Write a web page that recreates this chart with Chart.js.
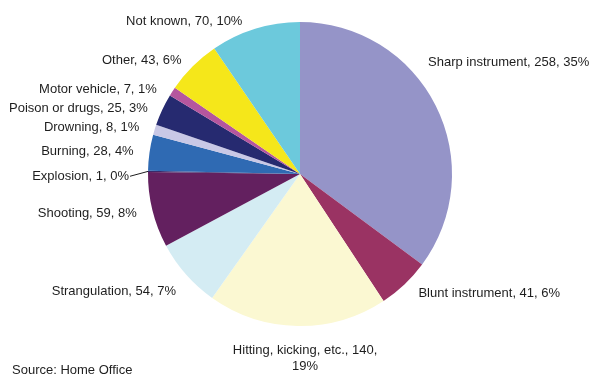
<!DOCTYPE html>
<html>
<head>
<meta charset="utf-8">
<script src="https://cdn.jsdelivr.net/npm/chart.js@4"></script>
<style>
  html, body { margin: 0; padding: 0; background: #fff; }
  #wrap { width: 595px; height: 376px; position: relative; }
</style>
</head>
<body>
<div id="wrap"><canvas id="weaponChart"></canvas></div>
<script>
// Homicides by method of killing
const categories = ['Sharp instrument', 'Blunt instrument', 'Hitting, kicking, etc.', 'Strangulation',
  'Shooting', 'Explosion', 'Burning', 'Drowning', 'Poison or drugs', 'Motor vehicle', 'Other', 'Not known'];
const counts = [258, 41, 140, 54, 59, 1, 28, 8, 25, 7, 43, 70];
const sliceColors = ['#9594c8', '#9a3363', '#fbf8d2', '#d4ecf3', '#63205f', '#3a2a6a', '#2f6ab3',
  '#c9c8e6', '#262a70', '#b5569e', '#f5e71a', '#6cc9dc'];
const sourceNote = 'Source: Home Office';

const total = counts.reduce((a, b) => a + b, 0);

// small hand nudges for labels that sit away from the default spot
const labelNudge = {
  0: [-22, -36],
  1: [3, -3],
  11: [-8, 3],
  5: [-3, 5],
  3: [2, 6],
  2: [8, 0],
  8: [0, 2],
  9: [-2, 2]
};

const outsideLabels = {
  id: 'outsideLabels',
  afterDatasetsDraw(chart) {
    const ctx = chart.ctx;
    const meta = chart.getDatasetMeta(0);
    ctx.save();
    ctx.font = '13px "Liberation Sans", Arial, sans-serif';
    ctx.fillStyle = '#1e1e1e';
    ctx.strokeStyle = '#1e1e1e';
    ctx.lineWidth = 1;
    meta.data.forEach((arc, i) => {
      const mid = (arc.startAngle + arc.endAngle) / 2;
      const R = arc.outerRadius + 16;
      const dx = Math.cos(mid), dy = Math.sin(mid);
      let x = arc.x + dx * R;
      let y = arc.y + dy * R;
      const nudge = labelNudge[i] || [0, 0];
      const pct = Math.round(counts[i] / total * 100);
      const text = categories[i] + ', ' + counts[i] + ', ' + pct + '%';
      ctx.textBaseline = 'middle';
      if (Math.abs(dx) < 0.2 && dy > 0) {
        // bottom label, wrapped on two lines
        ctx.textAlign = 'center';
        x += nudge[0]; y += nudge[1];
        ctx.fillText(categories[i] + ', ' + counts[i] + ',', x, y + 8);
        ctx.fillText(pct + '%', x, y + 24);
        return;
      }
      if (dy < 0 && dx < 0) y += 5 * Math.min(1, -dy * 1.6);
      x += nudge[0]; y += nudge[1];
      ctx.textAlign = dx < 0 ? 'right' : 'left';
      ctx.fillText(text, x, y);
      if (counts[i] / total < 0.005) {
        const ex = arc.x + dx * arc.outerRadius, ey = arc.y + dy * arc.outerRadius;
        ctx.beginPath();
        ctx.moveTo(ex, ey);
        ctx.lineTo(x + 1, y);
        ctx.stroke();
      }
    });
    ctx.textAlign = 'left';
    ctx.fillText(sourceNote, 12, 370);
    ctx.restore();
  }
};

new Chart(document.getElementById('weaponChart'), {
  type: 'pie',
  data: {
    labels: categories,
    datasets: [{
      data: counts,
      backgroundColor: sliceColors,
      borderWidth: 0,
      hoverOffset: 0,
      offset: 0
    }]
  },
  options: {
    responsive: true,
    maintainAspectRatio: false,
    animation: false,
    layout: { padding: { top: 22, bottom: 50, left: 5, right: 0 } },
    plugins: {
      legend: { display: false },
      tooltip: { enabled: false }
    }
  },
  plugins: [outsideLabels]
});
</script>
</body>
</html>
